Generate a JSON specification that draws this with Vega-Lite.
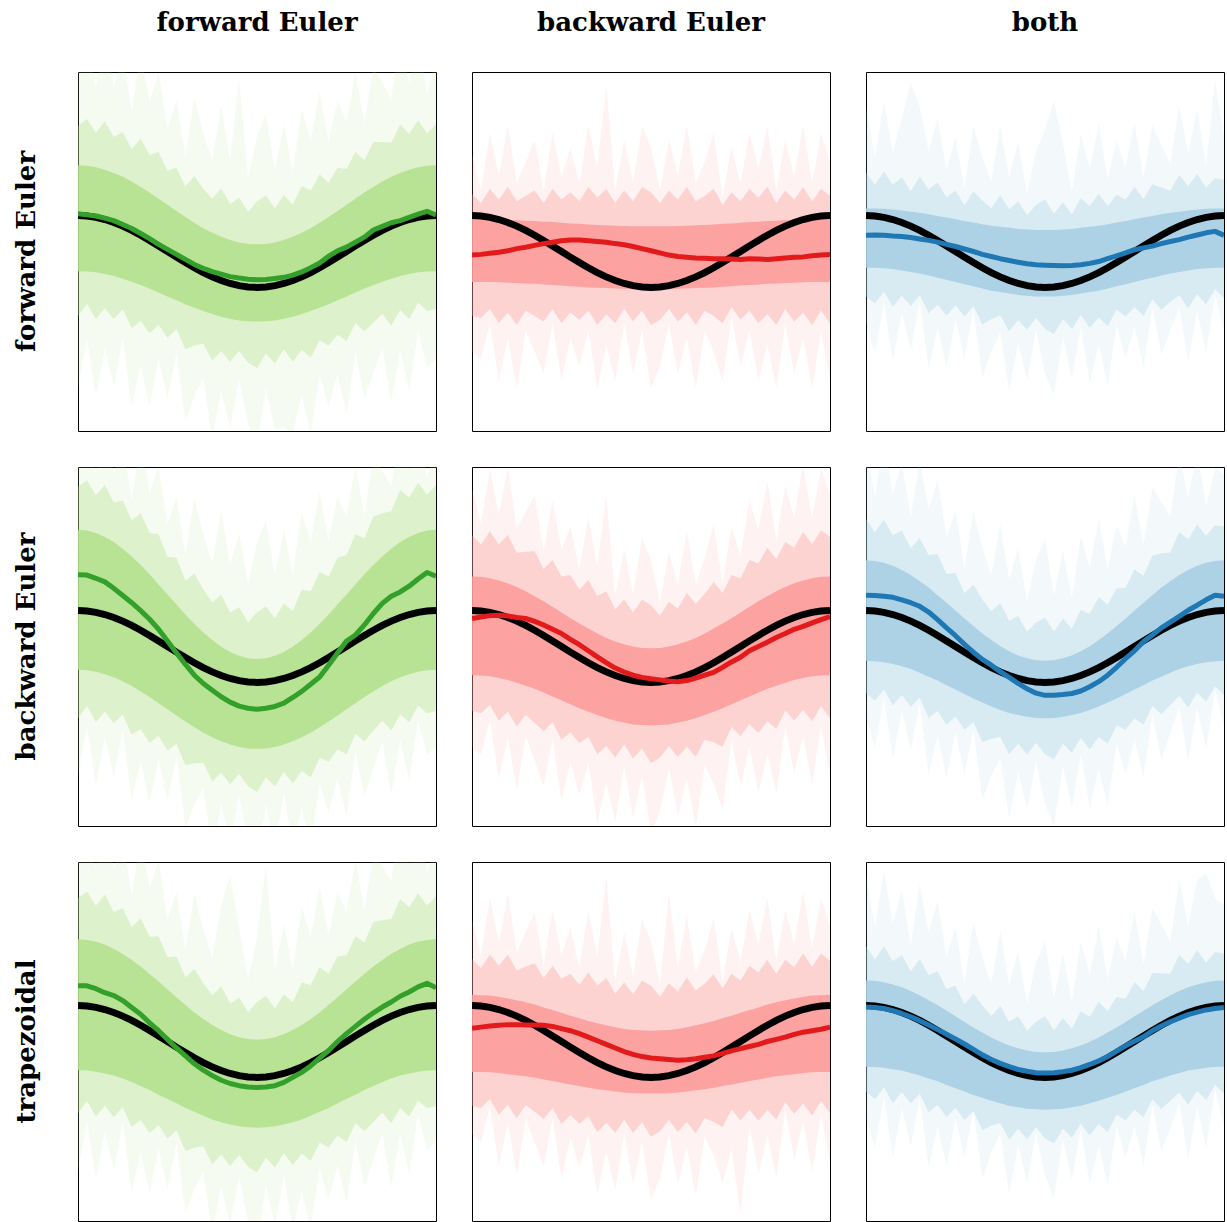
{
  "$schema": "https://vega.github.io/schema/vega-lite/v6.json",
  "background": "white",
  "padding": {"left": 13, "top": 10, "right": 0, "bottom": 0},
  "data": {"values": [
    {"p":11,"x":0,"m":1.05,"l1":-0.55,"h1":2.4,"l2":-1.8,"h2":3.5,"l3":-3.8,"h3":5.2},
    {"p":11,"x":1,"m":1.02,"l1":-0.56,"h1":2.39,"l2":-1.46,"h2":3.69,"l3":-2.41,"h3":6},
    {"p":11,"x":2,"m":0.99,"l1":-0.58,"h1":2.35,"l2":-1.88,"h2":3.3,"l3":-4.03,"h3":4.54},
    {"p":11,"x":3,"m":0.93,"l1":-0.63,"h1":2.28,"l2":-1.58,"h2":3.63,"l3":-2.68,"h3":6.07},
    {"p":11,"x":4,"m":0.86,"l1":-0.68,"h1":2.19,"l2":-1.88,"h2":3.19,"l3":-3.73,"h3":4.57},
    {"p":11,"x":5,"m":0.75,"l1":-0.76,"h1":2.08,"l2":-1.61,"h2":3.33,"l3":-2.41,"h3":5.45},
    {"p":11,"x":6,"m":0.64,"l1":-0.84,"h1":1.95,"l2":-2.14,"h2":2.85,"l3":-4.29,"h3":3.91},
    {"p":11,"x":7,"m":0.5,"l1":-0.93,"h1":1.8,"l2":-1.93,"h2":3.15,"l3":-3.18,"h3":5.54},
    {"p":11,"x":8,"m":0.36,"l1":-1.03,"h1":1.64,"l2":-2.28,"h2":2.69,"l3":-4.28,"h3":4.17},
    {"p":11,"x":9,"m":0.2,"l1":-1.14,"h1":1.47,"l2":-2.04,"h2":2.77,"l3":-2.99,"h3":4.99},
    {"p":11,"x":10,"m":0.06,"l1":-1.25,"h1":1.3,"l2":-2.4,"h2":2.25,"l3":-4.1,"h3":3.4},
    {"p":11,"x":11,"m":-0.08,"l1":-1.36,"h1":1.13,"l2":-2.16,"h2":2.33,"l3":-2.81,"h3":4.21},
    {"p":11,"x":12,"m":-0.22,"l1":-1.47,"h1":0.96,"l2":-2.72,"h2":1.81,"l3":-4.72,"h3":2.63},
    {"p":11,"x":13,"m":-0.36,"l1":-1.57,"h1":0.8,"l2":-2.62,"h2":2.1,"l3":-4.02,"h3":4.26},
    {"p":11,"x":14,"m":-0.47,"l1":-1.66,"h1":0.65,"l2":-2.56,"h2":1.75,"l3":-3.51,"h3":3.29},
    {"p":11,"x":15,"m":-0.56,"l1":-1.74,"h1":0.52,"l2":-3.04,"h2":1.47,"l3":-5.19,"h3":2.55},
    {"p":11,"x":16,"m":-0.63,"l1":-1.82,"h1":0.41,"l2":-2.77,"h2":1.76,"l3":-3.87,"h3":4.03},
    {"p":11,"x":17,"m":-0.7,"l1":-1.87,"h1":0.32,"l2":-3.07,"h2":1.32,"l3":-4.92,"h3":2.53},
    {"p":11,"x":18,"m":-0.74,"l1":-1.92,"h1":0.25,"l2":-2.77,"h2":1.5,"l3":-3.57,"h3":4.8},
    {"p":11,"x":19,"m":-0.77,"l1":-1.94,"h1":0.21,"l2":-3.09,"h2":1.11,"l3":-4.79,"h3":2.01},
    {"p":11,"x":20,"m":-0.79,"l1":-1.95,"h1":0.2,"l2":-3.25,"h2":1.4,"l3":-5.4,"h3":3.2},
    {"p":11,"x":21,"m":-0.78,"l1":-1.94,"h1":0.21,"l2":-2.84,"h2":1.56,"l3":-3.79,"h3":3.81},
    {"p":11,"x":22,"m":-0.75,"l1":-1.92,"h1":0.25,"l2":-3.12,"h2":1.2,"l3":-4.97,"h3":2.26},
    {"p":11,"x":23,"m":-0.72,"l1":-1.87,"h1":0.32,"l2":-2.72,"h2":1.57,"l3":-4.9,"h3":3.53},
    {"p":11,"x":24,"m":-0.66,"l1":-1.82,"h1":0.41,"l2":-3.07,"h2":1.31,"l3":-5.07,"h3":2.23},
    {"p":11,"x":25,"m":-0.57,"l1":-1.74,"h1":0.52,"l2":-2.74,"h2":1.82,"l3":-3.99,"h3":3.95},
    {"p":11,"x":26,"m":-0.45,"l1":-1.66,"h1":0.65,"l2":-2.96,"h2":1.7,"l3":-5.11,"h3":3.09},
    {"p":11,"x":27,"m":-0.32,"l1":-1.57,"h1":0.8,"l2":-2.47,"h2":2.15,"l3":-3.42,"h3":4.46},
    {"p":11,"x":28,"m":-0.13,"l1":-1.47,"h1":0.96,"l2":-2.62,"h2":1.91,"l3":-4.32,"h3":3.03},
    {"p":11,"x":29,"m":0.02,"l1":-1.36,"h1":1.13,"l2":-2.31,"h2":2.33,"l3":-3.41,"h3":4.21},
    {"p":11,"x":30,"m":0.12,"l1":-1.25,"h1":1.3,"l2":-2.5,"h2":2.3,"l3":-4.5,"h3":3.6},
    {"p":11,"x":31,"m":0.26,"l1":-1.14,"h1":1.47,"l2":-1.99,"h2":2.77,"l3":-2.79,"h3":4.99},
    {"p":11,"x":32,"m":0.4,"l1":-1.03,"h1":1.64,"l2":-2.23,"h2":2.54,"l3":-4.08,"h3":3.57},
    {"p":11,"x":33,"m":0.6,"l1":-0.93,"h1":1.8,"l2":-1.98,"h2":3.05,"l3":-3.38,"h3":5.14},
    {"p":11,"x":34,"m":0.7,"l1":-0.84,"h1":1.95,"l2":-1.74,"h2":3.05,"l3":-2.69,"h3":4.71},
    {"p":11,"x":35,"m":0.8,"l1":-0.76,"h1":2.08,"l2":-2.06,"h2":3.03,"l3":-4.21,"h3":4.25},
    {"p":11,"x":36,"m":0.86,"l1":-0.68,"h1":2.19,"l2":-1.63,"h2":3.54,"l3":-2.73,"h3":5.97},
    {"p":11,"x":37,"m":0.95,"l1":-0.63,"h1":2.28,"l2":-1.88,"h2":3.28,"l3":-3.88,"h3":4.67},
    {"p":11,"x":38,"m":1.04,"l1":-0.58,"h1":2.35,"l2":-1.43,"h2":3.65,"l3":-2.23,"h3":5.94},
    {"p":11,"x":39,"m":1.12,"l1":-0.56,"h1":2.39,"l2":-1.66,"h2":3.29,"l3":-3.21,"h3":4.39},
    {"p":11,"x":40,"m":1.02,"l1":-0.55,"h1":2.4,"l2":-1.6,"h2":3.55,"l3":-3.0,"h3":5.4},

    {"p":12,"x":0,"m":-0.1,"l1":-0.85,"h1":0.9,"l2":-1.8,"h2":1.6,"l3":-2.8,"h3":2.7},
    {"p":12,"x":1,"m":-0.08,"l1":-0.85,"h1":0.9,"l2":-1.85,"h2":1.35,"l3":-3.0,"h3":1.7},
    {"p":12,"x":2,"m":-0.05,"l1":-0.85,"h1":0.9,"l2":-1.6,"h2":1.75,"l3":-2.0,"h3":3.3},
    {"p":12,"x":3,"m":-0.02,"l1":-0.86,"h1":0.89,"l2":-2.0,"h2":1.45,"l3":-3.6,"h3":2.1},
    {"p":12,"x":4,"m":0.02,"l1":-0.87,"h1":0.88,"l2":-1.7,"h2":1.8,"l3":-2.4,"h3":3.5},
    {"p":12,"x":5,"m":0.08,"l1":-0.88,"h1":0.87,"l2":-2.05,"h2":1.4,"l3":-3.8,"h3":1.9},
    {"p":12,"x":6,"m":0.12,"l1":-0.89,"h1":0.86,"l2":-1.65,"h2":1.55,"l3":-2.2,"h3":2.5},
    {"p":12,"x":7,"m":0.17,"l1":-0.9,"h1":0.85,"l2":-1.8,"h2":1.7,"l3":-2.8,"h3":3.1},
    {"p":12,"x":8,"m":0.22,"l1":-0.92,"h1":0.83,"l2":-1.95,"h2":1.35,"l3":-3.4,"h3":1.7},
    {"p":12,"x":9,"m":0.26,"l1":-0.93,"h1":0.82,"l2":-1.6,"h2":1.75,"l3":-2.0,"h3":3.3},
    {"p":12,"x":10,"m":0.3,"l1":-0.95,"h1":0.8,"l2":-2.0,"h2":1.45,"l3":-3.6,"h3":2.1},
    {"p":12,"x":11,"m":0.32,"l1":-0.97,"h1":0.78,"l2":-1.7,"h2":1.65,"l3":-2.4,"h3":2.9},
    {"p":12,"x":12,"m":0.32,"l1":-0.98,"h1":0.77,"l2":-1.9,"h2":1.4,"l3":-3.2,"h3":1.9},
    {"p":12,"x":13,"m":0.3,"l1":-1.0,"h1":0.75,"l2":-1.65,"h2":1.8,"l3":-2.2,"h3":3.5},
    {"p":12,"x":14,"m":0.28,"l1":-1.01,"h1":0.74,"l2":-2.05,"h2":1.5,"l3":-3.8,"h3":2.3},
    {"p":12,"x":15,"m":0.26,"l1":-1.02,"h1":0.73,"l2":-1.75,"h2":1.75,"l3":-2.6,"h3":4.6},
    {"p":12,"x":16,"m":0.22,"l1":-1.03,"h1":0.72,"l2":-2.0,"h2":1.35,"l3":-3.6,"h3":1.7},
    {"p":12,"x":17,"m":0.19,"l1":-1.04,"h1":0.71,"l2":-1.6,"h2":1.7,"l3":-2.0,"h3":3.1},
    {"p":12,"x":18,"m":0.14,"l1":-1.05,"h1":0.7,"l2":-1.95,"h2":1.4,"l3":-3.4,"h3":1.9},
    {"p":12,"x":19,"m":0.08,"l1":-1.05,"h1":0.7,"l2":-1.65,"h2":1.8,"l3":-2.2,"h3":3.5},
    {"p":12,"x":20,"m":0.02,"l1":-1.05,"h1":0.7,"l2":-2.05,"h2":1.65,"l3":-3.8,"h3":2.9},
    {"p":12,"x":21,"m":-0.04,"l1":-1.05,"h1":0.7,"l2":-1.9,"h2":1.35,"l3":-3.2,"h3":1.7},
    {"p":12,"x":22,"m":-0.1,"l1":-1.05,"h1":0.7,"l2":-1.6,"h2":1.7,"l3":-2.0,"h3":3.1},
    {"p":12,"x":23,"m":-0.14,"l1":-1.04,"h1":0.71,"l2":-1.95,"h2":1.45,"l3":-3.4,"h3":2.1},
    {"p":12,"x":24,"m":-0.16,"l1":-1.03,"h1":0.72,"l2":-1.7,"h2":1.8,"l3":-2.4,"h3":3.5},
    {"p":12,"x":25,"m":-0.18,"l1":-1.02,"h1":0.73,"l2":-2.05,"h2":1.4,"l3":-3.8,"h3":1.9},
    {"p":12,"x":26,"m":-0.19,"l1":-1.01,"h1":0.74,"l2":-1.65,"h2":1.55,"l3":-2.2,"h3":2.5},
    {"p":12,"x":27,"m":-0.2,"l1":-1.0,"h1":0.75,"l2":-1.8,"h2":1.75,"l3":-2.8,"h3":3.3},
    {"p":12,"x":28,"m":-0.2,"l1":-0.98,"h1":0.77,"l2":-2.0,"h2":1.3,"l3":-3.6,"h3":1.5},
    {"p":12,"x":29,"m":-0.21,"l1":-0.97,"h1":0.78,"l2":-1.55,"h2":1.65,"l3":-1.8,"h3":2.9},
    {"p":12,"x":30,"m":-0.22,"l1":-0.95,"h1":0.8,"l2":-1.9,"h2":1.4,"l3":-3.2,"h3":1.9},
    {"p":12,"x":31,"m":-0.2,"l1":-0.93,"h1":0.82,"l2":-1.65,"h2":1.75,"l3":-2.2,"h3":3.3},
    {"p":12,"x":32,"m":-0.21,"l1":-0.92,"h1":0.83,"l2":-2.0,"h2":1.5,"l3":-3.6,"h3":2.3},
    {"p":12,"x":33,"m":-0.22,"l1":-0.9,"h1":0.85,"l2":-1.75,"h2":1.8,"l3":-2.6,"h3":3.5},
    {"p":12,"x":34,"m":-0.2,"l1":-0.89,"h1":0.86,"l2":-2.05,"h2":1.35,"l3":-3.8,"h3":1.7},
    {"p":12,"x":35,"m":-0.18,"l1":-0.88,"h1":0.87,"l2":-1.6,"h2":1.7,"l3":-2.0,"h3":3.1},
    {"p":12,"x":36,"m":-0.16,"l1":-0.87,"h1":0.88,"l2":-1.95,"h2":1.45,"l3":-3.4,"h3":2.1},
    {"p":12,"x":37,"m":-0.15,"l1":-0.86,"h1":0.89,"l2":-1.7,"h2":1.8,"l3":-2.4,"h3":3.5},
    {"p":12,"x":38,"m":-0.12,"l1":-0.85,"h1":0.9,"l2":-2.05,"h2":1.4,"l3":-3.8,"h3":1.9},
    {"p":12,"x":39,"m":-0.1,"l1":-0.85,"h1":0.9,"l2":-1.65,"h2":1.75,"l3":-2.2,"h3":3.3},
    {"p":12,"x":40,"m":-0.08,"l1":-0.85,"h1":0.9,"l2":-2.0,"h2":1.55,"l3":-3.6,"h3":2.5},

    {"p":13,"x":0,"m":0.45,"l1":-0.45,"h1":1.2,"l2":-1.25,"h2":2.2,"l3":-2.0,"h3":4.0},
    {"p":13,"x":1,"m":0.46,"l1":-0.45,"h1":1.2,"l2":-1.45,"h2":1.85,"l3":-2.81,"h3":2.6},
    {"p":13,"x":2,"m":0.45,"l1":-0.47,"h1":1.19,"l2":-1.12,"h2":2.23,"l3":-1.42,"h3":4.18},
    {"p":13,"x":3,"m":0.43,"l1":-0.49,"h1":1.17,"l2":-1.54,"h2":1.86,"l3":-3.05,"h3":2.76},
    {"p":13,"x":4,"m":0.42,"l1":-0.53,"h1":1.14,"l2":-1.23,"h2":2.07,"l3":-1.7,"h3":3.72},
    {"p":13,"x":5,"m":0.39,"l1":-0.57,"h1":1.11,"l2":-1.52,"h2":1.68,"l3":-2.75,"h3":4.7},
    {"p":13,"x":6,"m":0.35,"l1":-0.61,"h1":1.08,"l2":-1.21,"h2":2.09,"l3":-1.41,"h3":4.04},
    {"p":13,"x":7,"m":0.31,"l1":-0.67,"h1":1.04,"l2":-1.72,"h2":1.73,"l3":-3.27,"h3":2.78},
    {"p":13,"x":8,"m":0.26,"l1":-0.73,"h1":0.99,"l2":-1.48,"h2":1.92,"l3":-2.15,"h3":3.72},
    {"p":13,"x":9,"m":0.2,"l1":-0.79,"h1":0.95,"l2":-1.79,"h2":1.51,"l3":-3.22,"h3":2.26},
    {"p":13,"x":10,"m":0.14,"l1":-0.85,"h1":0.9,"l2":-1.5,"h2":1.7,"l3":-1.9,"h3":3.2},
    {"p":13,"x":11,"m":0.07,"l1":-0.91,"h1":0.85,"l2":-1.81,"h2":1.29,"l3":-2.98,"h3":1.74},
    {"p":13,"x":12,"m":0.0,"l1":-0.97,"h1":0.81,"l2":-1.52,"h2":1.68,"l3":-1.65,"h3":3.48},
    {"p":13,"x":13,"m":-0.08,"l1":-1.03,"h1":0.76,"l2":-2.03,"h2":1.42,"l3":-3.53,"h3":2.62},
    {"p":13,"x":14,"m":-0.14,"l1":-1.09,"h1":0.72,"l2":-1.89,"h2":1.21,"l3":-2.79,"h3":1.96},
    {"p":13,"x":15,"m":-0.2,"l1":-1.13,"h1":0.69,"l2":-1.78,"h2":1.57,"l3":-2.25,"h3":3.52},
    {"p":13,"x":16,"m":-0.25,"l1":-1.17,"h1":0.66,"l2":-2.22,"h2":1.18,"l3":-3.9,"h3":2.08},
    {"p":13,"x":17,"m":-0.3,"l1":-1.21,"h1":0.63,"l2":-1.91,"h2":1.39,"l3":-2.55,"h3":3.04},
    {"p":13,"x":18,"m":-0.34,"l1":-1.23,"h1":0.61,"l2":-2.18,"h2":1.02,"l3":-3.58,"h3":1.62},
    {"p":13,"x":19,"m":-0.37,"l1":-1.25,"h1":0.6,"l2":-1.85,"h2":1.3,"l3":-2.19,"h3":2.8},
    {"p":13,"x":20,"m":-0.38,"l1":-1.25,"h1":0.6,"l2":-2.15,"h2":1.45,"l3":-3.4,"h3":3.4},
    {"p":13,"x":21,"m":-0.39,"l1":-1.25,"h1":0.6,"l2":-2.3,"h2":1.05,"l3":-3.99,"h3":4.2},
    {"p":13,"x":22,"m":-0.4,"l1":-1.23,"h1":0.61,"l2":-1.88,"h2":1.37,"l3":-2.38,"h3":3.02},
    {"p":13,"x":23,"m":-0.39,"l1":-1.21,"h1":0.63,"l2":-2.16,"h2":1.04,"l3":-3.55,"h3":1.64},
    {"p":13,"x":24,"m":-0.37,"l1":-1.17,"h1":0.66,"l2":-1.77,"h2":1.48,"l3":-2.1,"h3":3.28},
    {"p":13,"x":25,"m":-0.33,"l1":-1.13,"h1":0.69,"l2":-2.13,"h2":1.27,"l3":-3.65,"h3":2.32},
    {"p":13,"x":26,"m":-0.28,"l1":-1.09,"h1":0.72,"l2":-1.84,"h2":1.61,"l3":-2.59,"h3":3.56},
    {"p":13,"x":27,"m":-0.2,"l1":-1.03,"h1":0.76,"l2":-2.08,"h2":1.27,"l3":-3.73,"h3":2.02},
    {"p":13,"x":28,"m":-0.12,"l1":-0.97,"h1":0.81,"l2":-1.62,"h2":1.58,"l3":-2.05,"h3":3.08},
    {"p":13,"x":29,"m":-0.04,"l1":-0.91,"h1":0.85,"l2":-1.81,"h2":1.44,"l3":-2.98,"h3":2.34},
    {"p":13,"x":30,"m":0.05,"l1":-0.85,"h1":0.9,"l2":-1.55,"h2":1.8,"l3":-2.1,"h3":3.6},
    {"p":13,"x":31,"m":0.1,"l1":-0.79,"h1":0.95,"l2":-1.79,"h2":1.46,"l3":-3.22,"h3":2.06},
    {"p":13,"x":32,"m":0.15,"l1":-0.73,"h1":0.99,"l2":-1.33,"h2":1.87,"l3":-1.55,"h3":3.52},
    {"p":13,"x":33,"m":0.22,"l1":-0.67,"h1":1.04,"l2":-1.62,"h2":1.78,"l3":-2.87,"h3":2.98},
    {"p":13,"x":34,"m":0.28,"l1":-0.61,"h1":1.08,"l2":-1.41,"h2":1.69,"l3":-2.21,"h3":2.44},
    {"p":13,"x":35,"m":0.33,"l1":-0.57,"h1":1.11,"l2":-1.22,"h2":2.13,"l3":-1.55,"h3":4.08},
    {"p":13,"x":36,"m":0.4,"l1":-0.53,"h1":1.14,"l2":-1.58,"h2":1.82,"l3":-3.1,"h3":2.72},
    {"p":13,"x":37,"m":0.46,"l1":-0.49,"h1":1.17,"l2":-1.19,"h2":2.16,"l3":-1.65,"h3":3.96},
    {"p":13,"x":38,"m":0.52,"l1":-0.47,"h1":1.19,"l2":-1.47,"h2":1.78,"l3":-2.82,"h3":2.38},
    {"p":13,"x":39,"m":0.56,"l1":-0.45,"h1":1.2,"l2":-1.05,"h2":2.05,"l3":-1.21,"h3":4.8},
    {"p":13,"x":40,"m":0.45,"l1":-0.45,"h1":1.2,"l2":-1.3,"h2":2.0,"l3":-2.2,"h3":3.2},

    {"p":21,"x":0,"m":2.0,"l1":-0.65,"h1":3.25,"l2":-2.0,"h2":4.45,"l3":-3.6,"h3":5.5},
    {"p":21,"x":1,"m":1.99,"l1":-0.66,"h1":3.23,"l2":-1.66,"h2":4.63,"l3":-2.21,"h3":6.28},
    {"p":21,"x":2,"m":1.9,"l1":-0.7,"h1":3.16,"l2":-2.1,"h2":4.21,"l3":-3.85,"h3":4.83},
    {"p":21,"x":3,"m":1.8,"l1":-0.77,"h1":3.05,"l2":-1.81,"h2":4.5,"l3":-2.52,"h3":6.34},
    {"p":21,"x":4,"m":1.62,"l1":-0.86,"h1":2.91,"l2":-2.14,"h2":4.01,"l3":-3.61,"h3":4.81},
    {"p":21,"x":5,"m":1.42,"l1":-0.97,"h1":2.72,"l2":-1.89,"h2":4.07,"l3":-2.32,"h3":5.66},
    {"p":21,"x":6,"m":1.22,"l1":-1.1,"h1":2.51,"l2":-2.46,"h2":3.51,"l3":-4.25,"h3":4.08},
    {"p":21,"x":7,"m":1.0,"l1":-1.25,"h1":2.27,"l2":-2.3,"h2":3.72,"l3":-3.2,"h3":5.68},
    {"p":21,"x":8,"m":0.76,"l1":-1.41,"h1":2.01,"l2":-2.69,"h2":3.16,"l3":-4.36,"h3":4.26},
    {"p":21,"x":9,"m":0.48,"l1":-1.58,"h1":1.73,"l2":-2.49,"h2":3.13,"l3":-3.13,"h3":5.03},
    {"p":21,"x":10,"m":0.15,"l1":-1.75,"h1":1.45,"l2":-2.9,"h2":2.5,"l3":-4.3,"h3":3.4},
    {"p":21,"x":11,"m":-0.18,"l1":-1.92,"h1":1.17,"l2":-2.71,"h2":2.47,"l3":-3.07,"h3":4.17},
    {"p":21,"x":12,"m":-0.5,"l1":-2.09,"h1":0.89,"l2":-3.31,"h2":1.84,"l3":-5.04,"h3":2.54},
    {"p":21,"x":13,"m":-0.8,"l1":-2.25,"h1":0.63,"l2":-3.25,"h2":2.03,"l3":-4.4,"h3":4.12},
    {"p":21,"x":14,"m":-1.03,"l1":-2.4,"h1":0.39,"l2":-3.24,"h2":1.59,"l3":-3.95,"h3":3.12},
    {"p":21,"x":15,"m":-1.22,"l1":-2.53,"h1":0.18,"l2":-3.76,"h2":1.23,"l3":-5.68,"h3":2.34},
    {"p":21,"x":16,"m":-1.4,"l1":-2.64,"h1":-0.01,"l2":-3.51,"h2":1.44,"l3":-4.39,"h3":3.79},
    {"p":21,"x":17,"m":-1.55,"l1":-2.73,"h1":-0.15,"l2":-3.84,"h2":0.95,"l3":-5.48,"h3":2.26},
    {"p":21,"x":18,"m":-1.66,"l1":-2.8,"h1":-0.26,"l2":-3.55,"h2":1.09,"l3":-4.15,"h3":3.17},
    {"p":21,"x":19,"m":-1.72,"l1":-2.84,"h1":-0.33,"l2":-3.89,"h2":0.67,"l3":-5.39,"h3":1.72},
    {"p":21,"x":20,"m":-1.75,"l1":-2.85,"h1":-0.35,"l2":-4.05,"h2":0.95,"l3":-6.0,"h3":2.9},
    {"p":21,"x":21,"m":-1.72,"l1":-2.84,"h1":-0.33,"l2":-3.64,"h2":1.12,"l3":-4.39,"h3":3.52},
    {"p":21,"x":22,"m":-1.67,"l1":-2.8,"h1":-0.26,"l2":-3.9,"h2":0.79,"l3":-5.55,"h3":1.97},
    {"p":21,"x":23,"m":-1.58,"l1":-2.73,"h1":-0.15,"l2":-3.49,"h2":1.2,"l3":-4.08,"h3":3.26},
    {"p":21,"x":24,"m":-1.42,"l1":-2.64,"h1":-0.01,"l2":-3.81,"h2":0.99,"l3":-5.59,"h3":1.99},
    {"p":21,"x":25,"m":-1.25,"l1":-2.53,"h1":0.18,"l2":-3.46,"h2":1.58,"l3":-4.48,"h3":3.74},
    {"p":21,"x":26,"m":-1.05,"l1":-2.4,"h1":0.39,"l2":-3.64,"h2":1.54,"l3":-5.55,"h3":2.92},
    {"p":21,"x":27,"m":-0.85,"l1":-2.25,"h1":0.63,"l2":-3.1,"h2":2.08,"l3":-3.8,"h3":4.32},
    {"p":21,"x":28,"m":-0.52,"l1":-2.09,"h1":0.89,"l2":-3.21,"h2":1.94,"l3":-4.64,"h3":2.94},
    {"p":21,"x":29,"m":-0.18,"l1":-1.92,"h1":1.17,"l2":-2.86,"h2":2.47,"l3":-3.67,"h3":4.17},
    {"p":21,"x":30,"m":0.15,"l1":-1.75,"h1":1.45,"l2":-3.0,"h2":2.55,"l3":-4.7,"h3":3.6},
    {"p":21,"x":31,"m":0.32,"l1":-1.58,"h1":1.73,"l2":-2.44,"h2":3.13,"l3":-2.93,"h3":5.03},
    {"p":21,"x":32,"m":0.6,"l1":-1.41,"h1":2.01,"l2":-2.64,"h2":3.01,"l3":-4.16,"h3":3.66},
    {"p":21,"x":33,"m":0.92,"l1":-1.25,"h1":2.27,"l2":-2.35,"h2":3.62,"l3":-3.4,"h3":5.28},
    {"p":21,"x":34,"m":1.2,"l1":-1.1,"h1":2.51,"l2":-2.06,"h2":3.71,"l3":-2.65,"h3":4.88},
    {"p":21,"x":35,"m":1.4,"l1":-0.97,"h1":2.72,"l2":-2.34,"h2":3.77,"l3":-4.12,"h3":4.46},
    {"p":21,"x":36,"m":1.52,"l1":-0.86,"h1":2.91,"l2":-1.89,"h2":4.36,"l3":-2.61,"h3":6.21},
    {"p":21,"x":37,"m":1.68,"l1":-0.77,"h1":3.05,"l2":-2.11,"h2":4.15,"l3":-3.72,"h3":4.94},
    {"p":21,"x":38,"m":1.88,"l1":-0.7,"h1":3.16,"l2":-1.65,"h2":4.56,"l3":-2.05,"h3":6.23},
    {"p":21,"x":39,"m":2.06,"l1":-0.66,"h1":3.23,"l2":-1.86,"h2":4.23,"l3":-3.01,"h3":4.68},
    {"p":21,"x":40,"m":1.96,"l1":-0.65,"h1":3.25,"l2":-1.8,"h2":4.5,"l3":-2.8,"h3":5.7},

    {"p":22,"x":0,"m":0.78,"l1":-0.8,"h1":1.95,"l2":-1.8,"h2":3.1,"l3":-2.8,"h3":4.4},
    {"p":22,"x":1,"m":0.82,"l1":-0.81,"h1":1.94,"l2":-1.86,"h2":2.84,"l3":-3.01,"h3":3.39},
    {"p":22,"x":2,"m":0.86,"l1":-0.83,"h1":1.9,"l2":-1.63,"h2":3.2,"l3":-2.03,"h3":4.95},
    {"p":22,"x":3,"m":0.87,"l1":-0.88,"h1":1.84,"l2":-2.07,"h2":2.84,"l3":-3.68,"h3":3.68},
    {"p":22,"x":4,"m":0.85,"l1":-0.93,"h1":1.76,"l2":-1.81,"h2":3.11,"l3":-2.53,"h3":4.99},
    {"p":22,"x":5,"m":0.81,"l1":-1.01,"h1":1.66,"l2":-2.23,"h2":2.61,"l3":-4.01,"h3":3.28},
    {"p":22,"x":6,"m":0.78,"l1":-1.09,"h1":1.54,"l2":-1.9,"h2":2.64,"l3":-2.49,"h3":3.75},
    {"p":22,"x":7,"m":0.7,"l1":-1.18,"h1":1.4,"l2":-2.13,"h2":2.65,"l3":-3.18,"h3":4.2},
    {"p":22,"x":8,"m":0.6,"l1":-1.28,"h1":1.26,"l2":-2.36,"h2":2.16,"l3":-3.88,"h3":2.64},
    {"p":22,"x":9,"m":0.48,"l1":-1.39,"h1":1.11,"l2":-2.11,"h2":2.41,"l3":-2.59,"h3":4.07},
    {"p":22,"x":10,"m":0.36,"l1":-1.5,"h1":0.95,"l2":-2.6,"h2":1.95,"l3":-4.3,"h3":2.7},
    {"p":22,"x":11,"m":0.2,"l1":-1.61,"h1":0.79,"l2":-2.39,"h2":1.99,"l3":-3.21,"h3":3.33},
    {"p":22,"x":12,"m":0.05,"l1":-1.72,"h1":0.64,"l2":-2.69,"h2":1.59,"l3":-4.12,"h3":2.16},
    {"p":22,"x":13,"m":-0.12,"l1":-1.82,"h1":0.5,"l2":-2.52,"h2":1.85,"l3":-3.22,"h3":3.6},
    {"p":22,"x":14,"m":-0.29,"l1":-1.91,"h1":0.36,"l2":-3.0,"h2":1.41,"l3":-4.91,"h3":2.25},
    {"p":22,"x":15,"m":-0.45,"l1":-1.99,"h1":0.24,"l2":-2.77,"h2":1.54,"l3":-3.79,"h3":4.2},
    {"p":22,"x":16,"m":-0.6,"l1":-2.07,"h1":0.14,"l2":-3.09,"h2":1.04,"l3":-4.87,"h3":1.41},
    {"p":22,"x":17,"m":-0.71,"l1":-2.12,"h1":0.06,"l2":-2.73,"h2":1.31,"l3":-3.32,"h3":2.72},
    {"p":22,"x":18,"m":-0.8,"l1":-2.17,"h1":0.0,"l2":-3.12,"h2":0.95,"l3":-4.77,"h3":1.45},
    {"p":22,"x":19,"m":-0.86,"l1":-2.19,"h1":-0.04,"l2":-2.84,"h2":1.31,"l3":-3.59,"h3":3.01},
    {"p":22,"x":20,"m":-0.9,"l1":-2.2,"h1":-0.05,"l2":-3.25,"h2":1.15,"l3":-5.2,"h3":2.4},
    {"p":22,"x":21,"m":-0.93,"l1":-2.19,"h1":-0.04,"l2":-3.09,"h2":0.86,"l3":-4.59,"h3":1.21},
    {"p":22,"x":22,"m":-0.96,"l1":-2.17,"h1":0.0,"l2":-2.77,"h2":1.25,"l3":-3.37,"h3":2.65},
    {"p":22,"x":23,"m":-0.98,"l1":-2.12,"h1":0.06,"l2":-3.08,"h2":1.06,"l3":-4.72,"h3":1.72},
    {"p":22,"x":24,"m":-0.95,"l1":-2.07,"h1":0.14,"l2":-2.79,"h2":1.49,"l3":-3.67,"h3":3.21},
    {"p":22,"x":25,"m":-0.88,"l1":-1.99,"h1":0.24,"l2":-3.07,"h2":1.19,"l3":-4.99,"h3":1.72},
    {"p":22,"x":26,"m":-0.8,"l1":-1.91,"h1":0.36,"l2":-2.6,"h2":1.46,"l3":-3.31,"h3":2.45},
    {"p":22,"x":27,"m":-0.72,"l1":-1.82,"h1":0.5,"l2":-2.67,"h2":1.8,"l3":-3.82,"h3":3.4},
    {"p":22,"x":28,"m":-0.58,"l1":-1.72,"h1":0.64,"l2":-2.79,"h2":1.49,"l3":-4.52,"h3":1.76},
    {"p":22,"x":29,"m":-0.43,"l1":-1.61,"h1":0.79,"l2":-2.24,"h2":1.99,"l3":-2.61,"h3":3.33},
    {"p":22,"x":30,"m":-0.3,"l1":-1.5,"h1":0.95,"l2":-2.5,"h2":1.9,"l3":-3.9,"h3":2.5},
    {"p":22,"x":31,"m":-0.12,"l1":-1.39,"h1":1.11,"l2":-2.16,"h2":2.41,"l3":-2.79,"h3":4.07},
    {"p":22,"x":32,"m":0.0,"l1":-1.28,"h1":1.26,"l2":-2.41,"h2":2.31,"l3":-4.08,"h3":3.24},
    {"p":22,"x":33,"m":0.12,"l1":-1.18,"h1":1.4,"l2":-2.08,"h2":2.75,"l3":-2.98,"h3":4.6},
    {"p":22,"x":34,"m":0.25,"l1":-1.09,"h1":1.54,"l2":-2.3,"h2":2.44,"l3":-4.09,"h3":2.95},
    {"p":22,"x":35,"m":0.36,"l1":-1.01,"h1":1.66,"l2":-1.78,"h2":2.91,"l3":-2.21,"h3":4.48},
    {"p":22,"x":36,"m":0.48,"l1":-0.93,"h1":1.76,"l2":-2.06,"h2":2.76,"l3":-3.53,"h3":3.59},
    {"p":22,"x":37,"m":0.56,"l1":-0.88,"h1":1.84,"l2":-1.77,"h2":3.19,"l3":-2.48,"h3":5.08},
    {"p":22,"x":38,"m":0.66,"l1":-0.83,"h1":1.9,"l2":-2.08,"h2":2.85,"l3":-3.83,"h3":3.55},
    {"p":22,"x":39,"m":0.75,"l1":-0.81,"h1":1.94,"l2":-1.66,"h2":3.24,"l3":-2.21,"h3":4.99},
    {"p":22,"x":40,"m":0.83,"l1":-0.8,"h1":1.95,"l2":-2.0,"h2":3.05,"l3":-3.6,"h3":4.2},

    {"p":23,"x":0,"m":1.43,"l1":-0.4,"h1":2.4,"l2":-1.3,"h2":3.55,"l3":-2.0,"h3":5.6},
    {"p":23,"x":1,"m":1.42,"l1":-0.41,"h1":2.38,"l2":-1.51,"h2":3.18,"l3":-2.81,"h3":4.18},
    {"p":23,"x":2,"m":1.4,"l1":-0.44,"h1":2.33,"l2":-1.19,"h2":3.53,"l3":-1.45,"h3":5.73},
    {"p":23,"x":3,"m":1.37,"l1":-0.49,"h1":2.25,"l2":-1.64,"h2":3.1,"l3":-3.11,"h3":4.25},
    {"p":23,"x":4,"m":1.3,"l1":-0.55,"h1":2.13,"l2":-1.35,"h2":3.23,"l3":-1.79,"h3":5.13},
    {"p":23,"x":5,"m":1.22,"l1":-0.63,"h1":1.99,"l2":-1.68,"h2":2.74,"l3":-2.89,"h3":3.59},
    {"p":23,"x":6,"m":1.12,"l1":-0.73,"h1":1.82,"l2":-1.43,"h2":3.02,"l3":-1.61,"h3":5.22},
    {"p":23,"x":7,"m":0.96,"l1":-0.84,"h1":1.64,"l2":-1.99,"h2":2.54,"l3":-3.55,"h3":3.84},
    {"p":23,"x":8,"m":0.75,"l1":-0.95,"h1":1.43,"l2":-1.8,"h2":2.58,"l3":-2.49,"h3":4.63},
    {"p":23,"x":9,"m":0.52,"l1":-1.08,"h1":1.22,"l2":-2.18,"h2":2.02,"l3":-3.64,"h3":3.02},
    {"p":23,"x":10,"m":0.3,"l1":-1.2,"h1":1.0,"l2":-1.95,"h2":2.05,"l3":-2.4,"h3":3.8},
    {"p":23,"x":11,"m":0.06,"l1":-1.32,"h1":0.78,"l2":-2.32,"h2":1.48,"l3":-3.56,"h3":2.18},
    {"p":23,"x":12,"m":-0.16,"l1":-1.45,"h1":0.57,"l2":-2.1,"h2":1.72,"l3":-2.31,"h3":3.77},
    {"p":23,"x":13,"m":-0.36,"l1":-1.56,"h1":0.36,"l2":-2.66,"h2":1.31,"l3":-4.25,"h3":2.76},
    {"p":23,"x":14,"m":-0.52,"l1":-1.67,"h1":0.18,"l2":-2.57,"h2":0.98,"l3":-3.59,"h3":1.98},
    {"p":23,"x":15,"m":-0.7,"l1":-1.77,"h1":0.01,"l2":-2.52,"h2":1.21,"l3":-3.11,"h3":3.41},
    {"p":23,"x":16,"m":-0.86,"l1":-1.85,"h1":-0.13,"l2":-3.0,"h2":0.72,"l3":-4.81,"h3":1.87},
    {"p":23,"x":17,"m":-1.03,"l1":-1.91,"h1":-0.25,"l2":-2.71,"h2":0.85,"l3":-3.49,"h3":2.75},
    {"p":23,"x":18,"m":-1.18,"l1":-1.96,"h1":-0.33,"l2":-3.01,"h2":0.42,"l3":-4.55,"h3":1.27},
    {"p":23,"x":19,"m":-1.3,"l1":-1.99,"h1":-0.38,"l2":-2.69,"h2":0.67,"l3":-3.19,"h3":2.42},
    {"p":23,"x":20,"m":-1.36,"l1":-2.0,"h1":-0.4,"l2":-3.0,"h2":0.8,"l3":-4.4,"h3":3.0},
    {"p":23,"x":21,"m":-1.36,"l1":-1.99,"h1":-0.38,"l2":-3.14,"h2":0.42,"l3":-4.99,"h3":1.42},
    {"p":23,"x":22,"m":-1.34,"l1":-1.96,"h1":-0.33,"l2":-2.71,"h2":0.77,"l3":-3.35,"h3":2.67},
    {"p":23,"x":23,"m":-1.31,"l1":-1.91,"h1":-0.25,"l2":-2.96,"h2":0.5,"l3":-4.49,"h3":1.35},
    {"p":23,"x":24,"m":-1.24,"l1":-1.85,"h1":-0.13,"l2":-2.55,"h2":1.02,"l3":-3.01,"h3":3.07},
    {"p":23,"x":25,"m":-1.12,"l1":-1.77,"h1":0.01,"l2":-2.87,"h2":0.91,"l3":-4.51,"h3":2.21},
    {"p":23,"x":26,"m":-0.98,"l1":-1.67,"h1":0.18,"l2":-2.52,"h2":1.38,"l3":-3.39,"h3":3.58},
    {"p":23,"x":27,"m":-0.8,"l1":-1.56,"h1":0.36,"l2":-2.71,"h2":1.16,"l3":-4.45,"h3":2.16},
    {"p":23,"x":28,"m":-0.58,"l1":-1.45,"h1":0.57,"l2":-2.2,"h2":1.62,"l3":-2.71,"h3":3.37},
    {"p":23,"x":29,"m":-0.34,"l1":-1.32,"h1":0.78,"l2":-2.32,"h2":1.63,"l3":-3.56,"h3":2.78},
    {"p":23,"x":30,"m":-0.12,"l1":-1.2,"h1":1.0,"l2":-2.0,"h2":2.15,"l3":-2.6,"h3":4.2},
    {"p":23,"x":31,"m":0.13,"l1":-1.08,"h1":1.22,"l2":-2.18,"h2":1.97,"l3":-3.64,"h3":2.82},
    {"p":23,"x":32,"m":0.32,"l1":-0.95,"h1":1.43,"l2":-1.65,"h2":2.53,"l3":-1.89,"h3":4.43},
    {"p":23,"x":33,"m":0.52,"l1":-0.84,"h1":1.64,"l2":-1.89,"h2":2.59,"l3":-3.15,"h3":4.04},
    {"p":23,"x":34,"m":0.68,"l1":-0.73,"h1":1.82,"l2":-1.63,"h2":2.62,"l3":-2.41,"h3":3.62},
    {"p":23,"x":35,"m":0.84,"l1":-0.63,"h1":1.99,"l2":-1.38,"h2":3.19,"l3":-1.69,"h3":5.39},
    {"p":23,"x":36,"m":1.01,"l1":-0.55,"h1":2.13,"l2":-1.7,"h2":2.98,"l3":-3.19,"h3":4.13},
    {"p":23,"x":37,"m":1.15,"l1":-0.49,"h1":2.25,"l2":-1.29,"h2":3.4,"l3":-1.71,"h3":5.45},
    {"p":23,"x":38,"m":1.3,"l1":-0.44,"h1":2.33,"l2":-1.54,"h2":3.08,"l3":-2.85,"h3":3.93},
    {"p":23,"x":39,"m":1.43,"l1":-0.41,"h1":2.38,"l2":-1.11,"h2":3.38,"l3":-1.21,"h3":4.98},
    {"p":23,"x":40,"m":1.4,"l1":-0.4,"h1":2.4,"l2":-1.35,"h2":3.35,"l3":-2.2,"h3":4.8},

    {"p":31,"x":0,"m":1.55,"l1":-0.8,"h1":2.85,"l2":-2.0,"h2":4.0,"l3":-3.6,"h3":5.5},
    {"p":31,"x":1,"m":1.55,"l1":-0.81,"h1":2.83,"l2":-1.66,"h2":4.18,"l3":-2.21,"h3":6.28},
    {"p":31,"x":2,"m":1.47,"l1":-0.84,"h1":2.78,"l2":-2.09,"h2":3.78,"l3":-3.84,"h3":4.83},
    {"p":31,"x":3,"m":1.36,"l1":-0.89,"h1":2.7,"l2":-1.79,"h2":4.09,"l3":-2.5,"h3":6.34},
    {"p":31,"x":4,"m":1.28,"l1":-0.95,"h1":2.58,"l2":-2.1,"h2":3.61,"l3":-3.57,"h3":4.81},
    {"p":31,"x":5,"m":1.14,"l1":-1.03,"h1":2.44,"l2":-1.83,"h2":3.71,"l3":-2.26,"h3":5.66},
    {"p":31,"x":6,"m":0.95,"l1":-1.13,"h1":2.27,"l2":-2.38,"h2":3.18,"l3":-4.17,"h3":4.08},
    {"p":31,"x":7,"m":0.76,"l1":-1.24,"h1":2.09,"l2":-2.19,"h2":3.43,"l3":-3.09,"h3":5.68},
    {"p":31,"x":8,"m":0.52,"l1":-1.35,"h1":1.88,"l2":-2.55,"h2":2.91,"l3":-4.22,"h3":4.26},
    {"p":31,"x":9,"m":0.3,"l1":-1.48,"h1":1.67,"l2":-2.33,"h2":2.93,"l3":-2.96,"h3":5.03},
    {"p":31,"x":10,"m":0.06,"l1":-1.6,"h1":1.45,"l2":-2.7,"h2":2.35,"l3":-4.1,"h3":3.4},
    {"p":31,"x":11,"m":-0.18,"l1":-1.72,"h1":1.23,"l2":-2.47,"h2":2.37,"l3":-2.84,"h3":4.17},
    {"p":31,"x":12,"m":-0.4,"l1":-1.85,"h1":1.02,"l2":-3.05,"h2":1.79,"l3":-4.78,"h3":2.54},
    {"p":31,"x":13,"m":-0.62,"l1":-1.96,"h1":0.81,"l2":-2.96,"h2":2.02,"l3":-4.11,"h3":4.12},
    {"p":31,"x":14,"m":-0.8,"l1":-2.07,"h1":0.63,"l2":-2.92,"h2":1.62,"l3":-3.63,"h3":3.12},
    {"p":31,"x":15,"m":-0.95,"l1":-2.17,"h1":0.46,"l2":-3.42,"h2":1.29,"l3":-5.34,"h3":2.34},
    {"p":31,"x":16,"m":-1.08,"l1":-2.25,"h1":0.32,"l2":-3.15,"h2":1.54,"l3":-4.03,"h3":3.79},
    {"p":31,"x":17,"m":-1.17,"l1":-2.31,"h1":0.2,"l2":-3.46,"h2":1.06,"l3":-5.1,"h3":4.6},
    {"p":31,"x":18,"m":-1.23,"l1":-2.36,"h1":0.12,"l2":-3.16,"h2":1.22,"l3":-3.76,"h3":3.17},
    {"p":31,"x":19,"m":-1.27,"l1":-2.39,"h1":0.07,"l2":-3.49,"h2":0.82,"l3":-4.99,"h3":1.72},
    {"p":31,"x":20,"m":-1.28,"l1":-2.4,"h1":0.05,"l2":-3.65,"h2":1.1,"l3":-5.6,"h3":2.9},
    {"p":31,"x":21,"m":-1.27,"l1":-2.39,"h1":0.07,"l2":-3.24,"h2":1.27,"l3":-3.99,"h3":4.9},
    {"p":31,"x":22,"m":-1.23,"l1":-2.36,"h1":0.12,"l2":-3.51,"h2":0.92,"l3":-5.16,"h3":1.97},
    {"p":31,"x":23,"m":-1.14,"l1":-2.31,"h1":0.2,"l2":-3.11,"h2":1.31,"l3":-3.7,"h3":3.26},
    {"p":31,"x":24,"m":-1.0,"l1":-2.25,"h1":0.32,"l2":-3.45,"h2":1.09,"l3":-5.23,"h3":1.99},
    {"p":31,"x":25,"m":-0.86,"l1":-2.17,"h1":0.46,"l2":-3.12,"h2":1.64,"l3":-4.14,"h3":3.74},
    {"p":31,"x":26,"m":-0.68,"l1":-2.07,"h1":0.63,"l2":-3.32,"h2":1.57,"l3":-5.23,"h3":2.92},
    {"p":31,"x":27,"m":-0.46,"l1":-1.96,"h1":0.81,"l2":-2.81,"h2":2.07,"l3":-3.51,"h3":4.32},
    {"p":31,"x":28,"m":-0.25,"l1":-1.85,"h1":1.02,"l2":-2.95,"h2":1.89,"l3":-4.38,"h3":2.94},
    {"p":31,"x":29,"m":0.0,"l1":-1.72,"h1":1.23,"l2":-2.62,"h2":2.37,"l3":-3.44,"h3":4.17},
    {"p":31,"x":30,"m":0.22,"l1":-1.6,"h1":1.45,"l2":-2.8,"h2":2.4,"l3":-4.5,"h3":3.6},
    {"p":31,"x":31,"m":0.42,"l1":-1.48,"h1":1.67,"l2":-2.28,"h2":2.93,"l3":-2.76,"h3":5.03},
    {"p":31,"x":32,"m":0.62,"l1":-1.35,"h1":1.88,"l2":-2.5,"h2":2.76,"l3":-4.02,"h3":3.66},
    {"p":31,"x":33,"m":0.8,"l1":-1.24,"h1":2.09,"l2":-2.24,"h2":3.33,"l3":-3.29,"h3":5.28},
    {"p":31,"x":34,"m":0.96,"l1":-1.13,"h1":2.27,"l2":-1.98,"h2":3.38,"l3":-2.57,"h3":4.88},
    {"p":31,"x":35,"m":1.1,"l1":-1.03,"h1":2.44,"l2":-2.28,"h2":3.41,"l3":-4.06,"h3":4.46},
    {"p":31,"x":36,"m":1.26,"l1":-0.95,"h1":2.58,"l2":-1.85,"h2":3.96,"l3":-2.57,"h3":6.21},
    {"p":31,"x":37,"m":1.38,"l1":-0.89,"h1":2.7,"l2":-2.09,"h2":3.74,"l3":-3.7,"h3":4.94},
    {"p":31,"x":38,"m":1.52,"l1":-0.84,"h1":2.78,"l2":-1.64,"h2":4.13,"l3":-2.04,"h3":6.23},
    {"p":31,"x":39,"m":1.62,"l1":-0.81,"h1":2.83,"l2":-1.86,"h2":3.78,"l3":-3.01,"h3":4.68},
    {"p":31,"x":40,"m":1.5,"l1":-0.8,"h1":2.85,"l2":-1.8,"h2":4.05,"l3":-2.8,"h3":5.7},

    {"p":32,"x":0,"m":0.37,"l1":-0.85,"h1":1.3,"l2":-1.8,"h2":2.3,"l3":-2.6,"h3":3.4},
    {"p":32,"x":1,"m":0.4,"l1":-0.85,"h1":1.29,"l2":-1.85,"h2":2.05,"l3":-2.8,"h3":2.4},
    {"p":32,"x":2,"m":0.43,"l1":-0.86,"h1":1.28,"l2":-1.61,"h2":2.43,"l3":-1.82,"h3":3.98},
    {"p":32,"x":3,"m":0.45,"l1":-0.88,"h1":1.25,"l2":-2.03,"h2":2.11,"l3":-3.44,"h3":2.76},
    {"p":32,"x":4,"m":0.47,"l1":-0.91,"h1":1.2,"l2":-1.76,"h2":2.42,"l3":-2.28,"h3":4.12},
    {"p":32,"x":5,"m":0.47,"l1":-0.94,"h1":1.15,"l2":-2.14,"h2":1.98,"l3":-3.72,"h3":2.48},
    {"p":32,"x":6,"m":0.46,"l1":-0.97,"h1":1.09,"l2":-1.77,"h2":2.09,"l3":-2.16,"h3":3.04},
    {"p":32,"x":7,"m":0.46,"l1":-1.01,"h1":1.03,"l2":-1.96,"h2":2.18,"l3":-2.82,"h3":3.58},
    {"p":32,"x":8,"m":0.45,"l1":-1.06,"h1":0.95,"l2":-2.16,"h2":1.77,"l3":-3.48,"h3":2.12},
    {"p":32,"x":9,"m":0.42,"l1":-1.1,"h1":0.88,"l2":-1.85,"h2":2.11,"l3":-2.14,"h3":3.66},
    {"p":32,"x":10,"m":0.36,"l1":-1.15,"h1":0.8,"l2":-2.3,"h2":1.75,"l3":-3.8,"h3":2.4},
    {"p":32,"x":11,"m":0.3,"l1":-1.2,"h1":0.72,"l2":-2.05,"h2":1.89,"l3":-2.66,"h3":3.14},
    {"p":32,"x":12,"m":0.22,"l1":-1.24,"h1":0.65,"l2":-2.29,"h2":1.58,"l3":-3.52,"h3":2.08},
    {"p":32,"x":13,"m":0.12,"l1":-1.29,"h1":0.57,"l2":-2.09,"h2":1.92,"l3":-2.58,"h3":3.62},
    {"p":32,"x":14,"m":0.02,"l1":-1.33,"h1":0.51,"l2":-2.53,"h2":1.56,"l3":-4.24,"h3":2.36},
    {"p":32,"x":15,"m":-0.08,"l1":-1.36,"h1":0.45,"l2":-2.26,"h2":1.77,"l3":-3.08,"h3":4.6},
    {"p":32,"x":16,"m":-0.18,"l1":-1.39,"h1":0.4,"l2":-2.54,"h2":1.33,"l3":-4.12,"h3":1.68},
    {"p":32,"x":17,"m":-0.28,"l1":-1.42,"h1":0.35,"l2":-2.17,"h2":1.64,"l3":-2.56,"h3":3.04},
    {"p":32,"x":18,"m":-0.36,"l1":-1.44,"h1":0.32,"l2":-2.54,"h2":1.32,"l3":-3.98,"h3":1.82},
    {"p":32,"x":19,"m":-0.42,"l1":-1.45,"h1":0.31,"l2":-2.25,"h2":1.7,"l3":-2.8,"h3":3.4},
    {"p":32,"x":20,"m":-0.46,"l1":-1.45,"h1":0.3,"l2":-2.65,"h2":1.55,"l3":-4.4,"h3":2.8},
    {"p":32,"x":21,"m":-0.48,"l1":-1.45,"h1":0.31,"l2":-2.5,"h2":1.25,"l3":-3.8,"h3":1.6},
    {"p":32,"x":22,"m":-0.5,"l1":-1.44,"h1":0.32,"l2":-2.19,"h2":1.62,"l3":-2.58,"h3":4.1},
    {"p":32,"x":23,"m":-0.52,"l1":-1.42,"h1":0.35,"l2":-2.52,"h2":1.39,"l3":-3.96,"h3":2.04},
    {"p":32,"x":24,"m":-0.51,"l1":-1.39,"h1":0.4,"l2":-2.24,"h2":1.78,"l3":-2.92,"h3":3.48},
    {"p":32,"x":25,"m":-0.48,"l1":-1.36,"h1":0.45,"l2":-2.56,"h2":1.42,"l3":-4.28,"h3":1.92},
    {"p":32,"x":26,"m":-0.44,"l1":-1.33,"h1":0.51,"l2":-2.13,"h2":1.61,"l3":-2.64,"h3":2.56},
    {"p":32,"x":27,"m":-0.4,"l1":-1.29,"h1":0.57,"l2":-2.24,"h2":1.87,"l3":-3.18,"h3":3.42},
    {"p":32,"x":28,"m":-0.33,"l1":-1.24,"h1":0.65,"l2":-2.39,"h2":1.48,"l3":-3.92,"h3":1.68},
    {"p":32,"x":29,"m":-0.26,"l1":-1.2,"h1":0.72,"l2":-1.9,"h2":1.89,"l3":-3.0,"h3":3.14},
    {"p":32,"x":30,"m":-0.2,"l1":-1.15,"h1":0.8,"l2":-2.2,"h2":1.7,"l3":-4.8,"h3":2.2},
    {"p":32,"x":31,"m":-0.14,"l1":-1.1,"h1":0.88,"l2":-1.9,"h2":2.11,"l3":-2.34,"h3":3.66},
    {"p":32,"x":32,"m":-0.08,"l1":-1.06,"h1":0.95,"l2":-2.21,"h2":1.92,"l3":-3.68,"h3":2.72},
    {"p":32,"x":33,"m":0.0,"l1":-1.01,"h1":1.03,"l2":-1.91,"h2":2.28,"l3":-2.62,"h3":3.98},
    {"p":32,"x":34,"m":0.06,"l1":-0.97,"h1":1.09,"l2":-2.17,"h2":1.89,"l3":-3.76,"h3":2.24},
    {"p":32,"x":35,"m":0.12,"l1":-0.94,"h1":1.15,"l2":-1.69,"h2":2.28,"l3":-1.92,"h3":3.68},
    {"p":32,"x":36,"m":0.2,"l1":-0.91,"h1":1.2,"l2":-2.01,"h2":2.07,"l3":-3.28,"h3":2.72},
    {"p":32,"x":37,"m":0.26,"l1":-0.88,"h1":1.25,"l2":-1.73,"h2":2.46,"l3":-2.24,"h3":4.16},
    {"p":32,"x":38,"m":0.3,"l1":-0.86,"h1":1.28,"l2":-2.06,"h2":2.08,"l3":-3.62,"h3":2.58},
    {"p":32,"x":39,"m":0.34,"l1":-0.85,"h1":1.29,"l2":-1.65,"h2":2.45,"l3":-2.0,"h3":4.0},
    {"p":32,"x":40,"m":0.4,"l1":-0.85,"h1":1.3,"l2":-2.0,"h2":2.25,"l3":-3.4,"h3":3.2},

    {"p":33,"x":0,"m":0.96,"l1":-0.7,"h1":1.7,"l2":-1.4,"h2":2.65,"l3":-2.15,"h3":4.6},
    {"p":33,"x":1,"m":0.95,"l1":-0.71,"h1":1.69,"l2":-1.61,"h2":2.29,"l3":-2.96,"h3":3.19},
    {"p":33,"x":2,"m":0.92,"l1":-0.73,"h1":1.65,"l2":-1.28,"h2":2.65,"l3":-1.58,"h3":4.75},
    {"p":33,"x":3,"m":0.86,"l1":-0.77,"h1":1.59,"l2":-1.72,"h2":2.24,"l3":-3.22,"h3":3.29},
    {"p":33,"x":4,"m":0.78,"l1":-0.81,"h1":1.51,"l2":-1.41,"h2":2.41,"l3":-1.86,"h3":4.21},
    {"p":33,"x":5,"m":0.69,"l1":-0.88,"h1":1.41,"l2":-1.73,"h2":1.96,"l3":-2.93,"h3":2.71},
    {"p":33,"x":6,"m":0.58,"l1":-0.95,"h1":1.29,"l2":-1.45,"h2":2.29,"l3":-1.6,"h3":4.39},
    {"p":33,"x":7,"m":0.46,"l1":-1.03,"h1":1.15,"l2":-1.98,"h2":1.85,"l3":-3.48,"h3":3.05},
    {"p":33,"x":8,"m":0.33,"l1":-1.11,"h1":1.01,"l2":-1.76,"h2":1.96,"l3":-2.36,"h3":3.91},
    {"p":33,"x":9,"m":0.2,"l1":-1.21,"h1":0.86,"l2":-2.11,"h2":1.46,"l3":-3.46,"h3":2.36},
    {"p":33,"x":10,"m":0.07,"l1":-1.3,"h1":0.7,"l2":-1.85,"h2":1.55,"l3":-2.15,"h3":3.2},
    {"p":33,"x":11,"m":-0.07,"l1":-1.39,"h1":0.54,"l2":-2.19,"h2":1.04,"l3":-3.24,"h3":1.64},
    {"p":33,"x":12,"m":-0.22,"l1":-1.49,"h1":0.39,"l2":-1.94,"h2":1.34,"l3":-1.94,"h3":3.29},
    {"p":33,"x":13,"m":-0.37,"l1":-1.57,"h1":0.25,"l2":-2.47,"h2":1.0,"l3":-3.82,"h3":2.35},
    {"p":33,"x":14,"m":-0.5,"l1":-1.65,"h1":0.11,"l2":-2.35,"h2":0.71,"l3":-3.1,"h3":1.61},
    {"p":33,"x":15,"m":-0.61,"l1":-1.72,"h1":-0.01,"l2":-2.27,"h2":0.99,"l3":-2.57,"h3":3.09},
    {"p":33,"x":16,"m":-0.7,"l1":-1.79,"h1":-0.11,"l2":-2.74,"h2":0.54,"l3":-4.24,"h3":1.59},
    {"p":33,"x":17,"m":-0.78,"l1":-1.83,"h1":-0.19,"l2":-2.43,"h2":0.71,"l3":-2.88,"h3":2.51},
    {"p":33,"x":18,"m":-0.83,"l1":-1.87,"h1":-0.25,"l2":-2.72,"h2":0.3,"l3":-3.92,"h3":1.05},
    {"p":33,"x":19,"m":-0.87,"l1":-1.89,"h1":-0.29,"l2":-2.39,"h2":0.56,"l3":-2.54,"h3":2.21},
    {"p":33,"x":20,"m":-0.88,"l1":-1.9,"h1":-0.3,"l2":-2.7,"h2":0.7,"l3":-3.75,"h3":2.8},
    {"p":33,"x":21,"m":-0.87,"l1":-1.89,"h1":-0.29,"l2":-2.84,"h2":0.31,"l3":-4.34,"h3":1.21},
    {"p":33,"x":22,"m":-0.84,"l1":-1.87,"h1":-0.25,"l2":-2.42,"h2":0.65,"l3":-2.72,"h3":2.45},
    {"p":33,"x":23,"m":-0.8,"l1":-1.83,"h1":-0.19,"l2":-2.68,"h2":0.36,"l3":-3.88,"h3":1.11},
    {"p":33,"x":24,"m":-0.73,"l1":-1.79,"h1":-0.11,"l2":-2.29,"h2":0.84,"l3":-2.44,"h3":2.79},
    {"p":33,"x":25,"m":-0.64,"l1":-1.72,"h1":-0.01,"l2":-2.62,"h2":0.69,"l3":-3.97,"h3":1.89},
    {"p":33,"x":26,"m":-0.54,"l1":-1.65,"h1":0.11,"l2":-2.3,"h2":1.11,"l3":-2.9,"h3":3.21},
    {"p":33,"x":27,"m":-0.42,"l1":-1.57,"h1":0.25,"l2":-2.52,"h2":0.85,"l3":-4.02,"h3":1.75},
    {"p":33,"x":28,"m":-0.27,"l1":-1.49,"h1":0.39,"l2":-2.04,"h2":1.24,"l3":-2.34,"h3":2.89},
    {"p":33,"x":29,"m":-0.12,"l1":-1.39,"h1":0.54,"l2":-2.19,"h2":1.19,"l3":-3.24,"h3":2.24},
    {"p":33,"x":30,"m":0.01,"l1":-1.3,"h1":0.7,"l2":-1.9,"h2":1.65,"l3":-2.35,"h3":3.6},
    {"p":33,"x":31,"m":0.13,"l1":-1.21,"h1":0.86,"l2":-2.11,"h2":1.41,"l3":-3.46,"h3":2.16},
    {"p":33,"x":32,"m":0.3,"l1":-1.11,"h1":1.01,"l2":-1.61,"h2":1.91,"l3":-1.76,"h3":3.71},
    {"p":33,"x":33,"m":0.43,"l1":-1.03,"h1":1.15,"l2":-1.88,"h2":1.9,"l3":-3.08,"h3":3.25},
    {"p":33,"x":34,"m":0.55,"l1":-0.95,"h1":1.29,"l2":-1.65,"h2":1.89,"l3":-2.4,"h3":2.79},
    {"p":33,"x":35,"m":0.65,"l1":-0.88,"h1":1.41,"l2":-1.43,"h2":2.41,"l3":-1.73,"h3":4.51},
    {"p":33,"x":36,"m":0.75,"l1":-0.81,"h1":1.51,"l2":-1.76,"h2":2.16,"l3":-3.26,"h3":3.21},
    {"p":33,"x":37,"m":0.82,"l1":-0.77,"h1":1.59,"l2":-1.37,"h2":2.54,"l3":-1.82,"h3":4.49},
    {"p":33,"x":38,"m":0.88,"l1":-0.73,"h1":1.65,"l2":-1.63,"h2":2.2,"l3":-2.98,"h3":4.7},
    {"p":33,"x":39,"m":0.92,"l1":-0.71,"h1":1.69,"l2":-1.21,"h2":2.49,"l3":-1.36,"h3":3.99},
    {"p":33,"x":40,"m":0.95,"l1":-0.7,"h1":1.7,"l2":-1.45,"h2":2.45,"l3":-2.35,"h3":3.8}
  ]},
  "transform": [
    {"lookup": "p", "from": {"data": {"values": [
      {"p":11,"rn":"forward Euler","cn":"forward Euler"},
      {"p":12,"rn":"forward Euler","cn":"backward Euler"},
      {"p":13,"rn":"forward Euler","cn":"both"},
      {"p":21,"rn":"backward Euler","cn":"forward Euler"},
      {"p":22,"rn":"backward Euler","cn":"backward Euler"},
      {"p":23,"rn":"backward Euler","cn":"both"},
      {"p":31,"rn":"trapezoidal","cn":"forward Euler"},
      {"p":32,"rn":"trapezoidal","cn":"backward Euler"},
      {"p":33,"rn":"trapezoidal","cn":"both"}
    ]}, "key": "p", "fields": ["rn", "cn"]}},
    {"lookup": "x", "from": {"data": {"values": [
      {"x":0,"t":1},{"x":1,"t":0.988},{"x":2,"t":0.951},{"x":3,"t":0.891},{"x":4,"t":0.809},
      {"x":5,"t":0.707},{"x":6,"t":0.588},{"x":7,"t":0.454},{"x":8,"t":0.309},{"x":9,"t":0.156},
      {"x":10,"t":0},{"x":11,"t":-0.156},{"x":12,"t":-0.309},{"x":13,"t":-0.454},{"x":14,"t":-0.588},
      {"x":15,"t":-0.707},{"x":16,"t":-0.809},{"x":17,"t":-0.891},{"x":18,"t":-0.951},{"x":19,"t":-0.988},
      {"x":20,"t":-1},{"x":21,"t":-0.988},{"x":22,"t":-0.951},{"x":23,"t":-0.891},{"x":24,"t":-0.809},
      {"x":25,"t":-0.707},{"x":26,"t":-0.588},{"x":27,"t":-0.454},{"x":28,"t":-0.309},{"x":29,"t":-0.156},
      {"x":30,"t":0},{"x":31,"t":0.156},{"x":32,"t":0.309},{"x":33,"t":0.454},{"x":34,"t":0.588},
      {"x":35,"t":0.707},{"x":36,"t":0.809},{"x":37,"t":0.891},{"x":38,"t":0.951},{"x":39,"t":0.988},
      {"x":40,"t":1}
    ]}, "key": "x", "fields": ["t"]}}
  ],
  "facet": {
    "row": {"field": "rn", "type": "nominal", "title": null,
      "sort": ["forward Euler", "backward Euler", "trapezoidal"],
      "header": {"labelAngle": -90, "labelOrient": "left", "labelFont": "DejaVu Serif", "labelFontWeight": "bold", "labelFontSize": 26, "labelColor": "black", "labelPadding": 24}},
    "column": {"field": "cn", "type": "nominal", "title": null,
      "sort": ["forward Euler", "backward Euler", "both"],
      "header": {"labelFont": "DejaVu Serif", "labelFontWeight": "bold", "labelFontSize": 26, "labelColor": "black", "labelPadding": 35}}
  },
  "spacing": {"row": 34, "column": 34},
  "spec": {
    "width": 358,
    "height": 359,
    "encoding": {
      "x": {"field": "x", "type": "quantitative", "scale": {"domain": [0, 40], "nice": false, "zero": false}, "axis": null}
    },
    "layer": [
      {"mark": {"type": "area", "opacity": 0.13, "clip": true},
       "encoding": {
         "y": {"field": "l3", "type": "quantitative", "scale": {"domain": [-5, 5], "nice": false, "zero": false}, "axis": null},
         "y2": {"field": "h3"},
         "fill": {"field": "cn", "type": "nominal", "scale": {"domain": ["forward Euler", "backward Euler", "both"], "range": ["#b2df8a", "#fb9a99", "#a6cee3"]}, "legend": null}}},
      {"mark": {"type": "area", "opacity": 0.35, "clip": true},
       "encoding": {
         "y": {"field": "l2", "type": "quantitative"},
         "y2": {"field": "h2"},
         "fill": {"field": "cn", "type": "nominal", "legend": null}}},
      {"mark": {"type": "area", "opacity": 0.85, "clip": true},
       "encoding": {
         "y": {"field": "l1", "type": "quantitative"},
         "y2": {"field": "h1"},
         "fill": {"field": "cn", "type": "nominal", "legend": null}}},
      {"mark": {"type": "line", "color": "black", "strokeWidth": 7, "clip": true},
       "encoding": {"y": {"field": "t", "type": "quantitative"}}},
      {"mark": {"type": "line", "strokeWidth": 5, "strokeJoin": "round", "clip": true},
       "encoding": {
         "y": {"field": "m", "type": "quantitative"},
         "stroke": {"field": "cn", "type": "nominal", "scale": {"domain": ["forward Euler", "backward Euler", "both"], "range": ["#33a02c", "#e31a1c", "#1f78b4"]}, "legend": null}}}
    ]
  },
  "config": {"view": {"stroke": "black", "strokeWidth": 1}}
}
